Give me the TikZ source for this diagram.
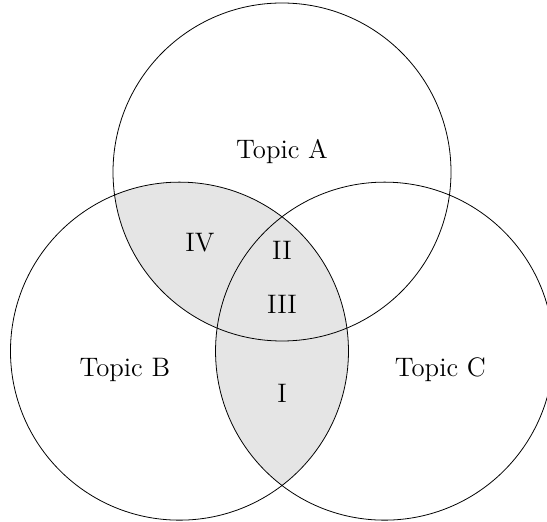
\documentclass[tikz,border=0pt]{standalone}
\usepackage{tikz}
\usetikzlibrary{positioning}

\def\circA{(0,0) circle (3cm)}
\def\circB{(-1.82,-3.18) circle (3cm)}
\def\circC{(1.82,-3.18) circle (3cm)}

\begin{document}
\begin{tikzpicture}[
        % Styles for the shaded regions and the labels
        shade/.style={fill=gray!20},
        label text/.style={font=\fontsize{13.5}{16}\selectfont}
    ]
    \useasboundingbox (-5.006,-6.213) rectangle (4.704,3.053);

    % Shade the parts of Topic B that overlap A or C
    \begin{scope}
        \clip \circB;
        \fill[shade] \circA \circC;
    \end{scope}

    % Draw the three circles
    \draw \circA;
    \draw \circB;
    \draw \circC;

    % Topic names
    \node[label text] (topicA) at (0,0.355) {Topic A};
    \node[label text] (topicB) at (-2.79,-3.515) {Topic B};
    \node[label text] (topicC) at (2.81,-3.515) {Topic C};

    % Region labels
    \node[label text] (regIV) at (-1.456,-1.26) {IV};
    \node[label text] (regII) at (0,-1.385) {II};
    \node[label text] (regIII) at (0,-2.343) {III};
    \node[label text] (regI) at (0,-3.923) {I};
\end{tikzpicture}
\end{document}
